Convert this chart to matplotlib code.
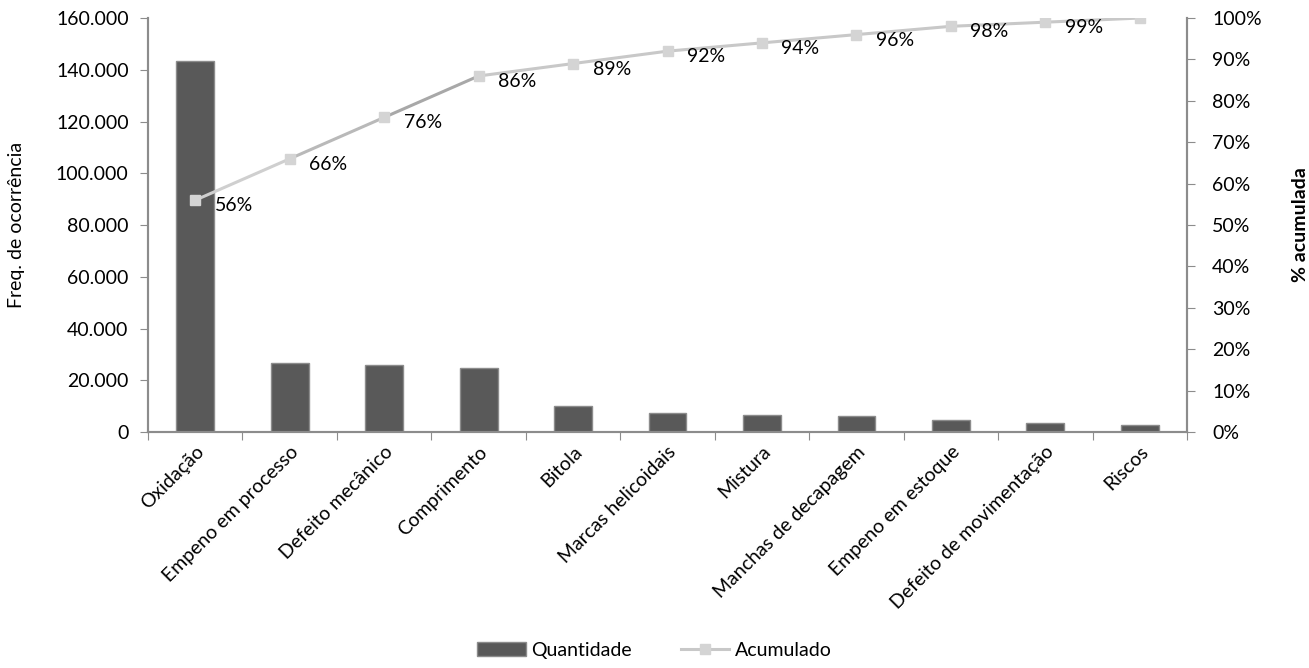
import matplotlib.pyplot as plt
from matplotlib.ticker import FuncFormatter, MultipleLocator
from matplotlib.lines import Line2D
from matplotlib.patches import Patch

plt.rcParams['font.family'] = ['Lato', 'DejaVu Sans']

categorias = ['Oxidação', 'Empeno em processo', 'Defeito mecânico', 'Comprimento',
              'Bitola', 'Marcas helicoidais', 'Mistura', 'Manchas de decapagem',
              'Empeno em estoque', 'Defeito de movimentação', 'Riscos']
quantidade = [143450, 26540, 25880, 24600, 9890, 7340, 6690, 6030, 4750, 3480, 2820]
acumulado = [56, 66, 76, 86, 89, 92, 94, 96, 98, 99, 100]
# o último ponto (100%) não tem rótulo no original
rotulos = ['56%', '66%', '76%', '86%', '89%', '92%', '94%', '96%', '98%', '99%', '']

cor_barra = '#595959'
cor_linha = '#c8c8c8'
cor_marca = '#d4d4d4'
cor_eixo = '#8c8c8c'
# no original os trechos do meio da curva saem mais escuros
cores_trecho = ['#cfcfcf', '#b9b9b9', '#a8a8a8'] + [cor_linha] * 7
fs = 14

fig = plt.figure(figsize=(13.09, 6.68), dpi=100)
ax = fig.add_axes([0.1131, 0.3533, 0.7937, 0.6197])
ax2 = ax.twinx()

x = list(range(len(categorias)))
ax.bar(x, quantidade, width=0.4, color=cor_barra, edgecolor=cor_eixo, linewidth=1)
ax.set_xlim(-0.5, len(categorias) - 0.5)
ax.set_ylim(0, 160000)
ax.yaxis.set_major_locator(MultipleLocator(20000))
ax.yaxis.set_major_formatter(FuncFormatter(lambda v, p: f'{int(v):,}'.replace(',', '.')))
ax.set_ylabel('Freq. de ocorrência', fontsize=fs, labelpad=22)

# ticks nas fronteiras das categorias, rótulos no centro
ax.set_xticks([i - 0.5 for i in range(len(categorias) + 1)])
ax.set_xticklabels([])
ax.set_xticks(x, minor=True)
ax.set_xticklabels(categorias, minor=True, rotation=45, ha='right', rotation_mode='anchor', fontsize=fs)
ax.tick_params(axis='x', which='minor', length=0, pad=8)
ax.tick_params(axis='x', which='major', length=6, color=cor_eixo)
ax.tick_params(axis='y', length=6, color=cor_eixo, labelsize=fs, pad=8)

for i in range(len(x) - 1):
    ax2.plot(x[i:i + 2], acumulado[i:i + 2], color=cores_trecho[i], linewidth=2.2,
             solid_capstyle='round')
ax2.plot(x, acumulado, linestyle='none', marker='s', markersize=7,
         markerfacecolor=cor_marca, markeredgecolor=cor_marca)
for xi, v, r in zip(x, acumulado, rotulos):
    ax2.annotate(r, (xi, v), xytext=(14, -4), textcoords='offset points',
                 ha='left', va='center', fontsize=fs)
ax2.set_ylim(0, 100)
ax2.yaxis.set_major_locator(MultipleLocator(10))
ax2.yaxis.set_major_formatter(FuncFormatter(lambda v, p: f'{int(v)}%'))
ax2.tick_params(axis='y', length=6, color=cor_eixo, labelsize=fs, pad=12)
ax2.set_ylabel('% acumulada', fontsize=fs, fontweight='bold', labelpad=22)

for a in (ax, ax2):
    a.spines['top'].set_visible(False)
    for s in ('left', 'right', 'bottom'):
        a.spines[s].set_color(cor_eixo)
        a.spines[s].set_linewidth(1.5)

handles = [Patch(facecolor=cor_barra, edgecolor=cor_eixo),
           Line2D([0], [0], color=cor_linha, linewidth=2.2, marker='s', markersize=7,
                  markerfacecolor=cor_marca, markeredgecolor=cor_marca)]
fig.legend(handles, ['Quantidade', 'Acumulado'], loc='lower center', bbox_to_anchor=(0.5, -0.012),
           ncol=2, frameon=False, fontsize=fs, handlelength=2.5, handletextpad=0.3, columnspacing=2.5)

fig.savefig('out.png', dpi=100)
plt.close()
